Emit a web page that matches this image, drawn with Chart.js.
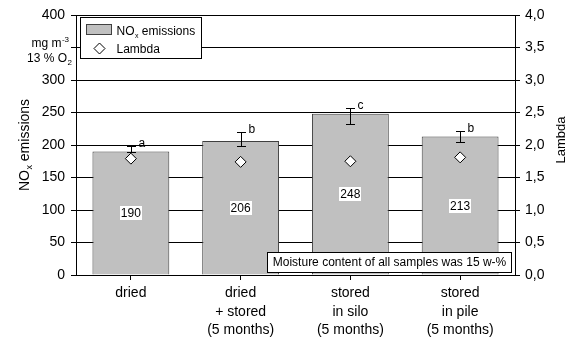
<!DOCTYPE html>
<html>
<head>
<meta charset="utf-8">
<script src="https://cdn.jsdelivr.net/npm/chart.js@4.4.1/dist/chart.umd.min.js"></script>
<style>
  html, body { margin: 0; padding: 0; background: #fff; }
  #wrap { width: 567px; height: 338px; }
</style>
</head>
<body>
<div id="wrap"><canvas id="emChart"></canvas></div>
<script>
// --- data ---
const categories = [
  'dried',
  ['dried', '+ stored', '(5 months)'],
  ['stored', 'in silo', '(5 months)'],
  ['stored', 'in pile', '(5 months)']
];
const noxValues = [190, 206, 248, 213];
const noxErrHigh = [198.5, 220, 256.5, 222];
const noxErrLow = [190, 198.5, 232.5, 205];
const sigLetters = ['a', 'b', 'c', 'b'];
const lambdaValues = [1.79, 1.74, 1.75, 1.81];

const FONT = "'Liberation Sans', Arial, Helvetica, sans-serif";
Chart.defaults.font.family = FONT;
Chart.defaults.color = '#000';

// draws "NO" + subscript "x" + rest, starting at x
function drawNOx(ctx, x, y, size, rest) {
  ctx.font = size + 'px ' + FONT;
  ctx.fillText('NO', x, y);
  let w = ctx.measureText('NO').width;
  ctx.font = Math.round(size * 0.62) + 'px ' + FONT;
  ctx.fillText('x', x + w + 0.5, y + size * 0.3);
  w += ctx.measureText('x').width + 0.5;
  ctx.font = size + 'px ' + FONT;
  ctx.fillText(rest, x + w, y);
}
function widthNOx(ctx, size, rest) {
  ctx.font = size + 'px ' + FONT;
  let w = ctx.measureText('NO').width + ctx.measureText(rest).width;
  ctx.font = Math.round(size * 0.62) + 'px ' + FONT;
  return w + ctx.measureText('x').width + 0.5;
}

function diamond(ctx, x, y, r) {
  ctx.beginPath();
  ctx.moveTo(x, y - r);
  ctx.lineTo(x + r, y);
  ctx.lineTo(x, y + r);
  ctx.lineTo(x - r, y);
  ctx.closePath();
  ctx.fillStyle = '#fff';
  ctx.fill();
  ctx.strokeStyle = '#000';
  ctx.lineWidth = 1;
  ctx.stroke();
}

const extras = {
  id: 'extras',
  // error bars, letters and value labels on top of the bars, below the diamonds
  afterDatasetDraw(chart, args) {
    if (args.index !== 0) return;
    const ctx = chart.ctx;
    const y = chart.scales.y;
    const meta = chart.getDatasetMeta(0);
    ctx.save();
    ctx.strokeStyle = '#000';
    ctx.lineWidth = 1;
    meta.data.forEach((bar, i) => {
      const x = Math.round(bar.x) + 0.5;
      const yh = Math.round(y.getPixelForValue(noxErrHigh[i])) + 0.5;
      const yl = Math.round(y.getPixelForValue(noxErrLow[i])) + 0.5;
      ctx.beginPath();
      ctx.moveTo(x, yh); ctx.lineTo(x, yl);
      ctx.moveTo(x - 4.5, yh); ctx.lineTo(x + 4.5, yh);
      ctx.moveTo(x - 4.5, yl); ctx.lineTo(x + 4.5, yl);
      ctx.stroke();

      ctx.fillStyle = '#000';
      ctx.font = '12px ' + FONT;
      ctx.textAlign = 'left';
      ctx.textBaseline = 'middle';
      ctx.fillText(sigLetters[i], x + 7, yh - 3);

      // value label in the middle of the bar
      const ym = y.getPixelForValue(noxValues[i] / 2);
      const txt = String(noxValues[i]);
      const tw = ctx.measureText(txt).width;
      ctx.fillStyle = '#fff';
      ctx.fillRect(Math.round(bar.x - tw / 2) - 1, Math.round(ym) - 7, Math.round(tw) + 2, 14);
      ctx.fillStyle = '#000';
      ctx.textAlign = 'center';
      ctx.fillText(txt, bar.x, ym + 0.5);
    });
    ctx.restore();
  },
  afterDraw(chart) {
    const ctx = chart.ctx;
    const a = chart.chartArea;
    ctx.save();
    ctx.textBaseline = 'alphabetic';
    ctx.textAlign = 'left';

    // legend
    const lx = a.left + 4.5, ly = a.top + 2.5;
    ctx.fillStyle = '#fff';
    ctx.fillRect(lx, ly, 121, 41);
    ctx.strokeStyle = '#000';
    ctx.lineWidth = 1;
    ctx.strokeRect(lx, ly, 121, 41);
    ctx.fillStyle = '#c0c0c0';
    ctx.fillRect(lx + 6, ly + 7, 25, 10);
    ctx.strokeStyle = '#404040';
    ctx.strokeRect(lx + 6, ly + 7, 25, 10);
    ctx.fillStyle = '#000';
    drawNOx(ctx, lx + 36, ly + 17, 12, ' emissions');
    diamond(ctx, lx + 19, ly + 31, 5.5);
    ctx.fillStyle = '#000';
    ctx.font = '12px ' + FONT;
    ctx.fillText('Lambda', lx + 36, ly + 35);

    // unit text in place of the 350 tick label
    ctx.textAlign = 'right';
    ctx.font = '8px ' + FONT;
    ctx.fillText('-3', 69, 42);
    const supW = ctx.measureText('-3').width;
    ctx.font = '12px ' + FONT;
    ctx.fillText('mg m', 69 - supW - 0.5, 47);
    ctx.font = '8px ' + FONT;
    ctx.fillText('2', 72, 65);
    const subW = ctx.measureText('2').width;
    ctx.font = '12px ' + FONT;
    ctx.fillText('13 % O', 72 - subW - 0.5, 62);

    // moisture note
    const bx1 = 267.5, bx2 = a.right - 3.5, by1 = 252.5, by2 = a.bottom - 2.5;
    ctx.fillStyle = '#fff';
    ctx.fillRect(bx1, by1, bx2 - bx1, by2 - by1);
    ctx.strokeStyle = '#000';
    ctx.strokeRect(bx1, by1, bx2 - bx1, by2 - by1);
    ctx.fillStyle = '#000';
    ctx.textAlign = 'center';
    ctx.textBaseline = 'middle';
    ctx.font = '12px ' + FONT;
    ctx.fillText('Moisture content of all samples was 15 w-%', (bx1 + bx2) / 2, (by1 + by2) / 2 + 0.5);

    // axis titles (both read bottom to top)
    ctx.textAlign = 'left';
    ctx.textBaseline = 'middle';
    ctx.save();
    ctx.translate(25, 145);
    ctx.rotate(-Math.PI / 2);
    const tw = widthNOx(ctx, 14, ' emissions');
    drawNOx(ctx, -tw / 2, 0, 14, ' emissions');
    ctx.restore();

    ctx.save();
    ctx.translate(561, 140);
    ctx.rotate(-Math.PI / 2);
    ctx.textAlign = 'center';
    ctx.font = '13px ' + FONT;
    ctx.fillText('Lambda', 0, 0);
    ctx.restore();

    ctx.restore();
  }
};

const ctx = document.getElementById('emChart').getContext('2d');
const emChart = new Chart(ctx, {
  type: 'bar',
  data: {
    labels: categories,
    datasets: [{
      type: 'bar',
      label: 'NOx emissions',
      data: noxValues,
      yAxisID: 'y',
      backgroundColor: '#c0c0c0',
      borderColor: '#404040',
      borderWidth: 1,
      barPercentage: 0.7,
      categoryPercentage: 1,
      order: 2
    }, {
      type: 'line',
      label: 'Lambda',
      data: lambdaValues,
      yAxisID: 'y1',
      showLine: false,
      pointStyle: 'rectRot',
      pointRadius: 5.5,
      pointBackgroundColor: '#fff',
      pointBorderColor: '#000',
      pointBorderWidth: 1,
      order: 1
    }]
  },
  options: {
    responsive: true,
    maintainAspectRatio: false,
    animation: false,
    layout: { padding: { top: 15, left: 0, right: 0, bottom: 0 } },
    plugins: {
      legend: { display: false },
      tooltip: { enabled: false }
    },
    scales: {
      x: {
        grid: { display: true, drawOnChartArea: false, offset: false, color: '#000', tickLength: 5 },
        border: { display: true, color: '#000' },
        ticks: { font: { size: 14, lineHeight: 1.32 }, padding: 4, maxRotation: 0, autoSkip: false },
        afterFit(s) { s.height = 63; }
      },
      y: {
        position: 'left',
        min: 0,
        max: 400,
        ticks: {
          stepSize: 50,
          font: { size: 14 },
          padding: 6,
          callback: v => (v === 350 ? '' : v)
        },
        grid: { color: '#000', tickLength: 5 },
        border: { display: true, color: '#000' },
        afterFit(s) { s.width = 76; }
      },
      y1: {
        position: 'right',
        min: 0,
        max: 4,
        ticks: {
          stepSize: 0.5,
          font: { size: 14 },
          padding: 5,
          callback: v => v.toFixed(1).replace('.', ',')
        },
        grid: { drawOnChartArea: false, color: '#000', tickLength: 5 },
        border: { display: true, color: '#000' },
        afterFit(s) { s.width = 52; }
      }
    }
  },
  plugins: [extras]
});
</script>
</body>
</html>
